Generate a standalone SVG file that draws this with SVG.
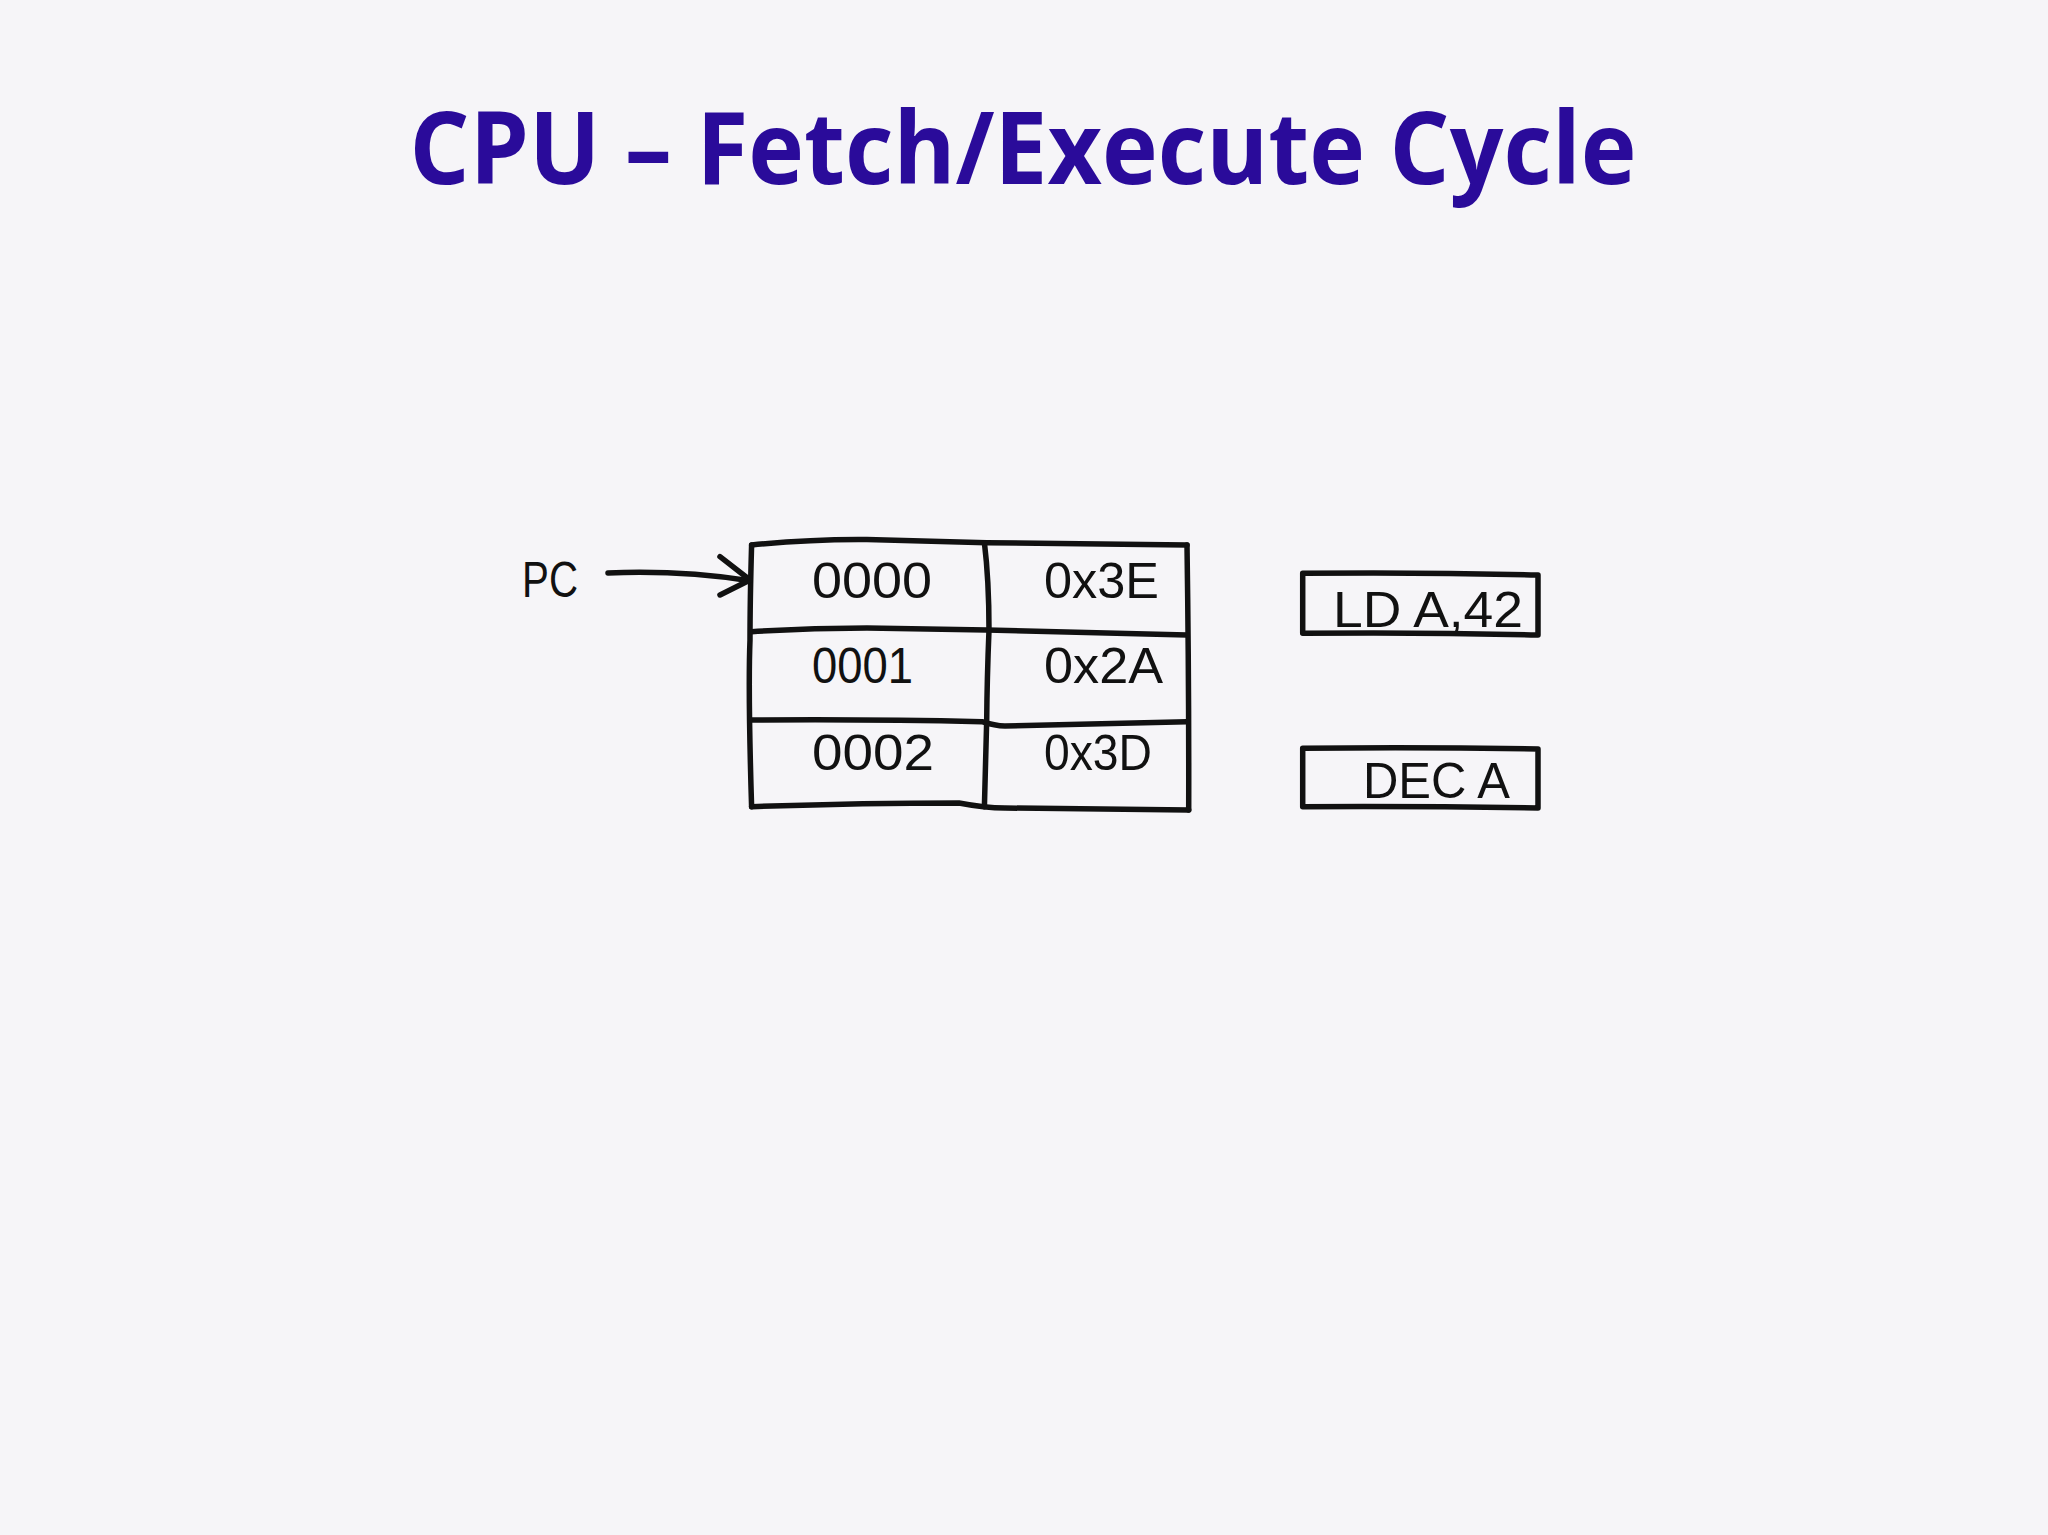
<svg xmlns="http://www.w3.org/2000/svg" width="2048" height="1535" viewBox="0 0 2048 1535">
<style>
.ink{fill:none;stroke:#111;stroke-width:5.5;stroke-linecap:round;stroke-linejoin:round}
.hw{font-family:"Liberation Sans","DejaVu Sans",sans-serif;font-size:50px;fill:#111;font-weight:400}
.title{font-family:"Open Sans","Liberation Sans",sans-serif;font-size:100px;font-weight:700;fill:#2A0B9A}
</style>
<rect width="2048" height="1535" fill="#F6F5F8"/>
<text class="title" x="1023" y="184" text-anchor="middle" textLength="1227" lengthAdjust="spacingAndGlyphs">CPU – Fetch/Execute Cycle</text>

<g id="memory">
<path class="ink" d="M751.6,545 Q810,539 867,539.5 Q930,541 986.7,542.7 L1187,545"/>
<path class="ink" d="M751.6,631.7 Q810,628 867,628 Q930,629 986.7,630 L1187,635"/>
<path class="ink" d="M751.6,720 Q870,719 982,721.7 Q995,726 1005,726 L1187,721.7"/>
<path class="ink" d="M751.6,806.7 Q860,803 959,803 Q985,808 1005,808 L1188.7,810"/>
<path class="ink" d="M751.6,545 Q750,600 750,640 Q748,690 751.6,806.7"/>
<path class="ink" d="M984.4,542.7 Q989,580 989,630 Q987,680 986.7,720 L984.4,806.7"/>
<path class="ink" d="M1187,545 Q1189,680 1188.7,810"/>
<text class="hw" x="812" y="598" textLength="120" lengthAdjust="spacingAndGlyphs">0000</text>
<text class="hw" x="812" y="683" textLength="101" lengthAdjust="spacingAndGlyphs">0001</text>
<text class="hw" x="812" y="770" textLength="122" lengthAdjust="spacingAndGlyphs">0002</text>
<text class="hw" x="1044" y="598" textLength="115" lengthAdjust="spacingAndGlyphs">0x3E</text>
<text class="hw" x="1044" y="683" textLength="119" lengthAdjust="spacingAndGlyphs">0x2A</text>
<text class="hw" x="1044" y="770" textLength="108" lengthAdjust="spacingAndGlyphs">0x3D</text>
</g>

<g id="pc">
<text class="hw" x="522" y="597" textLength="56" lengthAdjust="spacingAndGlyphs">PC</text>
</g>

<g id="connectors">
<path class="ink" d="M608,573 Q680,570 750,580.7"/>
<path class="ink" d="M720,556.7 L750,580 L720,595"/>
</g>

<g id="instr-ld">
<path class="ink" d="M1302.7,573.3 Q1420,572 1538,575 L1538,635 Q1420,632 1302.7,633.3 Z"/>
<text class="hw" x="1333" y="627" textLength="190" lengthAdjust="spacingAndGlyphs">LD A,42</text>
</g>

<g id="instr-dec">
<path class="ink" d="M1302.7,748.3 Q1420,747 1538,749 L1538,808 Q1420,806 1302.7,806.7 Z"/>
<text class="hw" x="1363" y="798" textLength="147" lengthAdjust="spacingAndGlyphs">DEC A</text>
</g>
</svg>
